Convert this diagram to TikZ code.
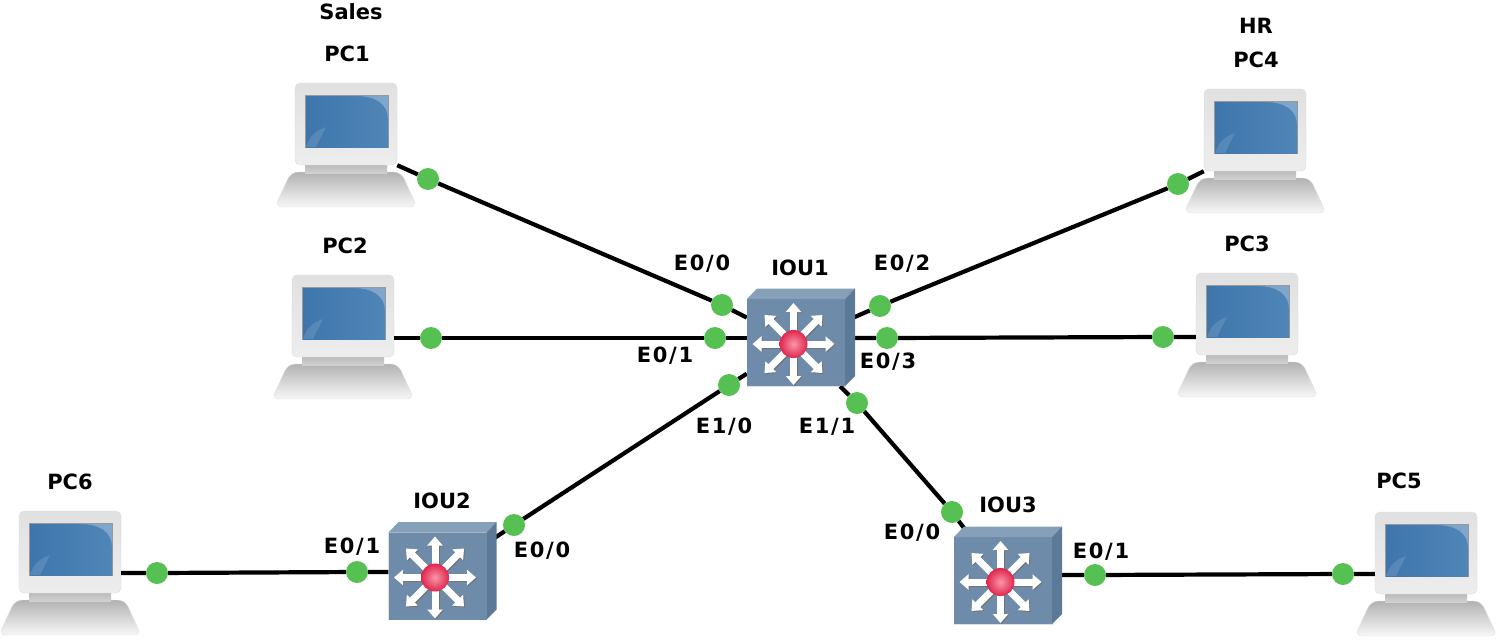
\documentclass[tikz,border=0pt]{standalone}
\usepackage{fontspec}
\setmainfont{DejaVu Sans}
\newfontfamily\portfont[LetterSpace=8]{DejaVu Sans}
\usepackage{tikz}
\usetikzlibrary{arrows.meta,calc}
\definecolor{lnkdot}{RGB}{86,193,82}
\definecolor{swfront}{RGB}{110,140,170}
\definecolor{swtop}{RGB}{135,160,185}
\definecolor{swside}{RGB}{92,121,151}
\definecolor{scrdark}{RGB}{62,118,172}
\definecolor{scrlight}{RGB}{80,133,183}
\definecolor{hubred}{RGB}{222,38,78}
\definecolor{hubpink}{RGB}{250,150,168}
\tikzset{
  lnk/.style={line width=4.2pt, black},
  portdot/.style={circle, fill=lnkdot, inner sep=0pt, minimum size=22pt},
  monbox/.style={draw=black!14, rounded corners=5pt, inner sep=0pt, top color=black!12, bottom color=black!7,
                 minimum width=102pt, minimum height=82pt},
  swbox/.style={fill=swfront, draw=black!12, inner sep=0pt, minimum width=98pt, minimum height=87pt},
  hubarr/.style={-{Triangle[length=9pt,width=15pt]}, line width=7pt},
  devlab/.style={font=\fontsize{21}{24}\selectfont\bfseries},
  portlab/.style={font=\fontsize{21}{24}\selectfont\portfont\bfseries},
}
\begin{document}
\begin{tikzpicture}[x=1pt,y=-1pt]
  \useasboundingbox (0,0) rectangle (1501,640);
  % pcs
  \foreach \nm/\px/\py in {pc1/346/124, pc2/343/316, pc3/1247/314, pc4/1255/130, pc5/1426/553, pc6/70/552}{
    \begin{scope}[shift={(\px,\py)}]
      \draw[black!12, rounded corners=7pt, top color=black!30, bottom color=black!3]
        (-55,48) -- (55,48) -- (71,83) -- (-71,83) -- cycle;
      \fill[top color=black!28, bottom color=black!18] (-41,40) rectangle (41,49);
      \node[monbox] (\nm) at (0,0) {};
      \fill[black!40] (-41,-29) rectangle (43,24);
      \begin{scope}
        \clip (-40,-28) rectangle (42,23);
        \fill[left color=scrdark, right color=scrlight] (-40,-28) rectangle (42,23);
        \fill[white, opacity=.28] (10,-28) .. controls (30,-28) and (42,-20) .. (42,-5) -- (42,-28) -- cycle;
        \fill[white, opacity=.12] (-40,23) .. controls (-36,10) and (-28,6) .. (-20,3) -- (-30,23) -- cycle;
      \end{scope}
    \end{scope}}
  % switches, front face
  \foreach \nm/\px/\py in {iou1/796/342.5, iou2/437.5/576, iou3/1003/580.5}{
    \node[swbox] (\nm) at (\px,\py) {};
  }
  % port dots
  \foreach \nm/\px/\py in {dpc1/428/179, dio1a/722/305, dpc2/431/338, dio1b/715/338, dpc4/1178/184, dio1c/880/306,
      dpc3/1163/337, dio1d/887/338, dio1e/729/385, dio2a/514/525, dio1f/857/403, dio3a/952/512,
      dpc6/157/573, dio2b/357/572, dio3b/1095/575, dpc5/1343/574}{
    \node[portdot] (\nm) at (\px,\py) {};
  }
  % links
  \draw[lnk] (pc1.south east) -- (dpc1) -- (dio1a) -- (iou1);
  \draw[lnk] (dpc2 -| pc2.east) -- (dpc2) -- (dio1b) -- (dio1b -| iou1.west);
  \draw[lnk] (pc4.south west) -- (dpc4) -- (dio1c) -- (iou1);
  \draw[lnk] (dpc3 -| pc3.west) -- (dpc3) -- (dio1d) -- (dio1d -| iou1.east);
  \draw[lnk] (iou1) -- (dio1e) -- (dio2a) -- (iou2);
  \draw[lnk] (iou1) -- (dio1f) -- (dio3a) -- (iou3);
  \draw[lnk] (dpc6 -| pc6.east) -- (dpc6) -- (dio2b) -- (dio2b -| iou2.west);
  \draw[lnk] (dio3b -| iou3.east) -- (dio3b) -- (dpc5) -- (dpc5 -| pc5.west);
  % switch faces and hub
  \foreach \nm/\px/\py in {iou1/796/342.5, iou2/437.5/576, iou3/1003/580.5}{
    \begin{scope}[shift={(\px,\py)}]
      \fill[swtop] (-49,-43.5) -- (-39,-54) -- (59,-54) -- (49,-43.5) -- cycle;
      \fill[swside] (49,-43.5) -- (59,-54) -- (59,33.5) -- (49,43.5) -- cycle;
      \fill[swfront] (-49,-43.5) rectangle (49,43.5);
      \begin{scope}[shift={(-2.5,1.5)}]
        \foreach \ang in {0,45,...,315}{
          \draw[hubarr, black!55] (1,1) -- ++(\ang:41);
          \draw[hubarr, white] (0,0) -- ++(\ang:41);
        }
        \shade[inner color=hubpink, outer color=hubred] (0,0) circle (14);
      \end{scope}
    \end{scope}}
  % labels
  \foreach \nm/\px/\py/\lab in {lsales/351/12/Sales, lpc1/347/54/PC1, lpc2/345/246/PC2, lhr/1256/26/HR, lpc4/1256/60/PC4,
      lpc3/1247/244/PC3, lpc6/70/482/PC6, lpc5/1399/481/PC5, liou1/800/268/IOU1, liou2/442/501/IOU2, liou3/1008/505/IOU3}{
    \node[devlab] (\nm) at (\px,\py) {\lab};
  }
  \foreach \nm/\px/\py/\lab in {p1/702/264/{E0/0}, p2/665/356/{E0/1}, p3/902/264/{E0/2}, p4/888/362/{E0/3}, p5/724/427/{E1/0},
      p6/827/427/{E1/1}, p7/352/547/{E0/1}, p8/542/551/{E0/0}, p9/912/533/{E0/0}, p10/1101/552/{E0/1}}{
    \node[portlab] (\nm) at (\px,\py) {\lab};
  }
\end{tikzpicture}
\end{document}
